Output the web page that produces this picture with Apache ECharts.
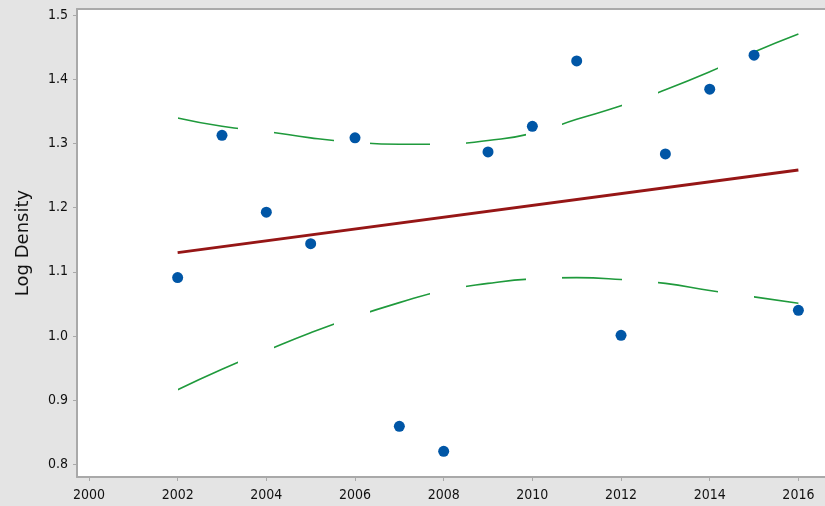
<!DOCTYPE html>
<html>
<head>
<meta charset="utf-8">
<script src="https://cdn.jsdelivr.net/npm/echarts@6/dist/echarts.min.js"></script>
<style>
html,body{margin:0;padding:0;background:#e4e4e4;}
#chart{width:825px;height:506px;}
</style>
</head>
<body>
<div id="chart"></div>
<script>
// Observed data
var years = [2002,2003,2004,2005,2006,2007,2008,2009,2010,2011,2012,2013,2014,2015,2016];
var logDensity = [1.091,1.313,1.193,1.144,1.309,0.859,0.820,1.287,1.327,1.429,1.001,1.284,1.385,1.438,1.040];
// Fitted regression line (read at ends)
var fitYears = [2002,2016];
var fitValues = [1.130,1.259];
// 95% confidence band, read at each year
var upperBand = [1.340,1.327,1.319,1.309,1.302,1.299,1.299,1.305,1.316,1.338,1.359,1.384,1.412,1.443,1.471];
var lowerBand = [0.916,0.948,0.977,1.005,1.030,1.052,1.071,1.082,1.089,1.091,1.088,1.082,1.071,1.061,1.051];
// Tick labels
var xTicks = [2000,2002,2004,2006,2008,2010,2012,2014,2016];
var yTicks = [0.8,0.9,1.0,1.1,1.2,1.3,1.4,1.5];

function pairs(xs, ys){ return xs.map(function(x,i){ return [x, ys[i]]; }); }

var font = "'DejaVu Sans Condensed','DejaVu Sans',sans-serif";
var axisGray = '#a9a9a9';
var green = '#1f9a3c';

// Dash style measured along the x direction (in years): dash and gap lengths
var dashLen = 1.354, gapLen = 0.813;
var dashPieces = [];
for (var s = years[0]; s < years[years.length-1] + 0.001; s += dashLen + gapLen) {
  dashPieces.push({gte: s, lt: s + dashLen, color: green});
}

var chart = echarts.init(document.getElementById('chart'), null, {renderer:'canvas'});
chart.setOption({
  backgroundColor: '#e4e4e4',
  animation: false,
  grid: {left: 77, right: 0, top: 9, bottom: 29, show: true, backgroundColor: '#ffffff', borderWidth: 0},
  visualMap: {
    show: false, type: 'piecewise', dimension: 0, seriesIndex: [0, 1],
    pieces: dashPieces, outOfRange: {color: 'rgba(255,255,255,0)'}
  },
  xAxis: [{
    type: 'value', min: 1999.73, max: 2016.6,
    axisLine: {show: true, lineStyle: {color: axisGray, width: 2}},
    axisTick: {show: true, length: 4, lineStyle: {color: axisGray}, customValues: xTicks},
    axisLabel: {customValues: xTicks, color: '#111', fontFamily: font, fontSize: 14, margin: 11,
      formatter: function(v){ return String(Math.round(v)); }},
    splitLine: {show: false}
  },{
    type: 'value', position: 'top', min: 1999.73, max: 2016.6,
    axisLine: {show: true, onZero: false, lineStyle: {color: axisGray, width: 2}},
    axisTick: {show: false}, axisLabel: {show: false}, splitLine: {show: false}
  }],
  yAxis: {
    type: 'value', min: 0.78, max: 1.51,
    name: 'Log Density', nameLocation: 'middle', nameRotate: 90, nameGap: 45,
    nameTextStyle: {color: '#111', fontFamily: "'DejaVu Sans',sans-serif", fontSize: 18},
    axisLine: {show: true, lineStyle: {color: axisGray, width: 2}},
    axisTick: {show: true, length: 4, lineStyle: {color: axisGray}, customValues: yTicks},
    axisLabel: {customValues: yTicks, color: '#111', fontFamily: font, fontSize: 14, margin: 9,
      formatter: function(v){ return v.toFixed(1); }},
    splitLine: {show: false}
  },
  series: [
    {type: 'line', data: pairs(years, upperBand), smooth: true, symbol: 'none',
     lineStyle: {width: 1.6}, z: 2},
    {type: 'line', data: pairs(years, lowerBand), smooth: true, symbol: 'none',
     lineStyle: {width: 1.6}, z: 2},
    {type: 'line', data: pairs(fitYears, fitValues), symbol: 'none',
     lineStyle: {color: '#961616', width: 3}, z: 3},
    {type: 'scatter', data: pairs(years, logDensity), symbol: 'circle', symbolSize: 11,
     itemStyle: {color: '#0056a6', opacity: 1}, z: 4}
  ]
});
</script>
</body>
</html>
